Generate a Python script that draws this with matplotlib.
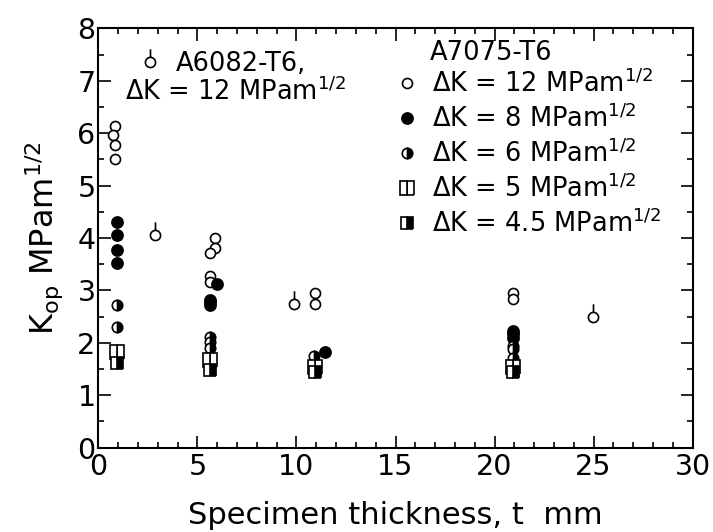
import matplotlib
matplotlib.use('Agg')
import matplotlib.pyplot as plt
from matplotlib.path import Path
from matplotlib.ticker import MultipleLocator

# A7075-T6, dK = 12 (open circles)
t_12 = [0.85, 0.75, 0.85, 0.85, 5.9, 5.9, 5.65, 5.65, 5.65, 10.95, 10.95, 20.95, 20.95]
k_12 = [6.14, 5.97, 5.78, 5.50, 4.00, 3.80, 3.72, 3.27, 3.17, 2.96, 2.75, 2.96, 2.83]
# dK = 8 (filled circles)
t_8 = [0.95, 0.95, 0.95, 0.95, 6.0, 5.65, 5.65, 5.65, 11.45, 20.95, 20.95, 20.95]
k_8 = [4.31, 4.05, 3.77, 3.52, 3.12, 2.81, 2.77, 2.73, 1.83, 2.23, 2.17, 2.10]
# dK = 6 (half circles)
t_6 = [0.95, 0.95, 5.65, 5.65, 5.65, 10.9, 20.95, 20.95, 20.95]
k_6 = [2.73, 2.31, 2.11, 2.01, 1.90, 1.74, 1.94, 1.88, 1.71]
# dK = 5 (open squares)
t_5 = [0.95, 5.65, 10.95, 20.95]
k_5 = [1.83, 1.67, 1.53, 1.53]
# dK = 4.5 (half squares)
t_45 = [0.95, 5.65, 10.95, 20.95]
k_45 = [1.61, 1.48, 1.45, 1.45]
# A6082-T6, dK = 12
t_6082 = [2.85, 9.9, 24.95]
k_6082 = [4.06, 2.75, 2.50]

lbl = ['ΔK = 12 MPam$^{1/2}$', 'ΔK = 8 MPam$^{1/2}$', 'ΔK = 6 MPam$^{1/2}$',
       'ΔK = 5 MPam$^{1/2}$', 'ΔK = 4.5 MPam$^{1/2}$']

# кружок с хвостиком вверх
pin = Path.make_compound_path(Path.unit_circle(),
                              Path([[0, 1], [0, 2.6]], [Path.MOVETO, Path.LINETO]))

fig = plt.figure(figsize=(7.13, 5.32), dpi=100)
ax = fig.add_axes([0.1379, 0.1585, 0.8336, 0.7883])

kw = dict(linestyle='none', markeredgecolor='black', markeredgewidth=1.2)
h12, = ax.plot(t_12, k_12, marker='o', markersize=7.2, markerfacecolor='white', **kw)
h8, = ax.plot(t_8, k_8, marker='o', markersize=8, markerfacecolor='black', **kw)
h6, = ax.plot(t_6, k_6, marker='o', markersize=7.5, fillstyle='right',
              markerfacecolor='black', markerfacecoloralt='white', **kw)
h5, = ax.plot(t_5, k_5, marker='s', markersize=10.5, fillstyle='right',
              markerfacecolor='white', markerfacecoloralt='white', **kw)
h45, = ax.plot(t_45, k_45, marker='s', markersize=8.5, fillstyle='right',
               markerfacecolor='black', markerfacecoloralt='white', **kw)
hA, = ax.plot(t_6082, k_6082, marker=pin, markersize=19, markerfacecolor='white', **kw)

ax.set_xlim(0, 30)
ax.set_ylim(0, 8)
ax.xaxis.set_major_locator(MultipleLocator(5))
ax.xaxis.set_minor_locator(MultipleLocator(1))
ax.yaxis.set_major_locator(MultipleLocator(1))
ax.yaxis.set_minor_locator(MultipleLocator(0.5))
ax.tick_params(which='both', direction='in', top=True, right=True, width=1.2,
               labelsize=20.5)
ax.tick_params(axis='x', pad=4)
ax.tick_params(axis='y', pad=2)
ax.tick_params(which='major', length=9)
ax.tick_params(which='minor', length=4.5)
for s in ax.spines.values():
    s.set_linewidth(1.5)

ax.set_xlabel('Specimen thickness, t  mm', fontsize=22, labelpad=14)
ax.set_ylabel('K$_{\\rm op}$ MPam$^{1/2}$', fontsize=23, labelpad=9)

# легенда A7075-T6
ax.text(0.558, 0.941, 'A7075-T6', transform=ax.transAxes, fontsize=18.5, va='center')
leg = ax.legend([h12, h8, h6, h5, h45], lbl, loc='upper left',
                frameon=False, fontsize=18.5, handlelength=0.8,
                handletextpad=0.6, labelspacing=0.26, borderaxespad=0.0,
                bbox_to_anchor=(0.484, 0.927))
ax.add_artist(leg)
# легенда A6082-T6
ax.legend([hA], ['A6082-T6,'], loc='upper left', frameon=False, fontsize=18.5,
          handlelength=0.8, handletextpad=0.6, borderaxespad=0.0,
          bbox_to_anchor=(0.053, 0.971))
ax.text(0.045, 0.83, 'ΔK = 12 MPam$^{1/2}$', transform=ax.transAxes, fontsize=18.5)

fig.savefig('out.png', dpi=100)
